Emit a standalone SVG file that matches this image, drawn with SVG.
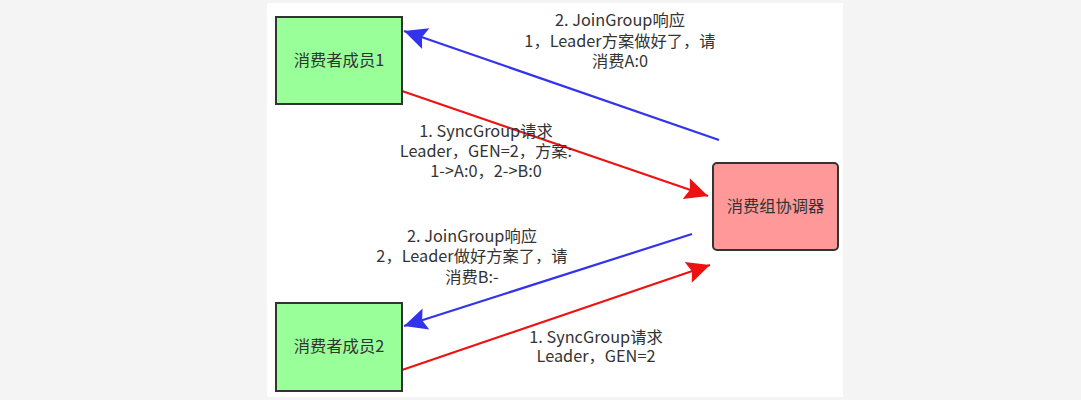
<svg xmlns="http://www.w3.org/2000/svg" width="1081" height="400" viewBox="0 0 1081 400">
<defs>
<style>
.lbl{font-family:"Noto Sans CJK SC","Microsoft YaHei",sans-serif;font-size:16.3px;fill:#333;text-anchor:middle}
.node{stroke:#333;stroke-width:2}
.blue{stroke:#3333ee;stroke-width:2.2;fill:none}
.red{stroke:#ee1111;stroke-width:2.2;fill:none}
</style>
<marker id="ab" viewBox="0 0 10 10" refX="9" refY="5" markerWidth="10" markerHeight="10" markerUnits="userSpaceOnUse" orient="auto" overflow="visible"><path d="M-14,-6 L9,5 L-14,16 L-10,5 Z" fill="#3333ee"/></marker>
<marker id="ar" viewBox="0 0 10 10" refX="9" refY="5" markerWidth="10" markerHeight="10" markerUnits="userSpaceOnUse" orient="auto" overflow="visible"><path d="M-14,-6 L9,5 L-14,16 L-10,5 Z" fill="#ee1111"/></marker>
</defs>
<rect x="0" y="0" width="1081" height="400" fill="#f4f4f4"/>
<rect x="267" y="3" width="576" height="394" fill="#ffffff"/>
<g id="connectors">
<line class="blue" x1="719" y1="140" x2="404" y2="31" marker-end="url(#ab)"/>
<line class="red" x1="402" y1="91" x2="708" y2="196" marker-end="url(#ar)"/>
<line class="blue" x1="692" y1="234" x2="404" y2="326" marker-end="url(#ab)"/>
<line class="red" x1="402" y1="370" x2="710" y2="265" marker-end="url(#ar)"/>
<text class="lbl" x="620" y="26">2. JoinGroup响应</text>
<text class="lbl" x="620" y="47">1，Leader方案做好了，请</text>
<text class="lbl" x="620" y="67">消费A:0</text>
<text class="lbl" x="486" y="137">1. SyncGroup请求</text>
<text class="lbl" x="486" y="157">Leader，GEN=2，方案:</text>
<text class="lbl" x="486" y="177">1-&gt;A:0，2-&gt;B:0</text>
<text class="lbl" x="472" y="242">2. JoinGroup响应</text>
<text class="lbl" x="472" y="262">2，Leader做好方案了，请</text>
<text class="lbl" x="472" y="283">消费B:-</text>
<text class="lbl" x="596" y="343">1. SyncGroup请求</text>
<text class="lbl" x="596" y="362">Leader，GEN=2</text>
</g>
<g id="node-member1">
<rect class="node" x="276" y="17" width="126" height="87" fill="#99ff99"/>
<text class="lbl" x="339" y="66">消费者成员1</text>
</g>
<g id="node-member2">
<rect class="node" x="276" y="303" width="126" height="88" fill="#99ff99"/>
<text class="lbl" x="339" y="352">消费者成员2</text>
</g>
<g id="node-coordinator">
<rect class="node" x="713" y="163" width="125" height="87" rx="4" fill="#ff9999"/>
<text class="lbl" x="775.5" y="212">消费组协调器</text>
</g>
</svg>
